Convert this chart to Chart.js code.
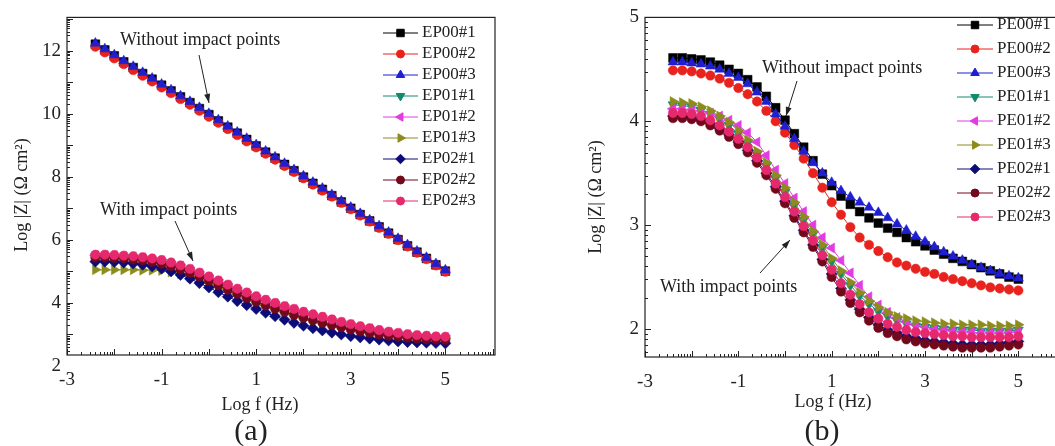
<!DOCTYPE html>
<html lang="en">
<head>
  <meta charset="UTF-8" />
  <title>Log |Z| vs Log f</title>
  <script src="https://cdn.jsdelivr.net/npm/chart.js"></script>
  <style>
    html, body {
      margin: 0;
      width: 1055px;
      height: 446px;
      overflow: hidden;
      background: #fff;
    }
    body { position: relative; }
    #chartA { position: absolute; left: 0; top: 0; }
    #chartB { position: absolute; left: 520px; top: 0; }
  </style>
</head>
<body>
  <canvas id="chartA" width="510" height="446"></canvas>
  <canvas id="chartB" width="560" height="446"></canvas>

  <script>
    // ---- data ----
    const logF = [-2.4, -2.2, -2.0, -1.8, -1.6, -1.4, -1.2, -1.0, -0.8, -0.6, -0.4, -0.2, 0.0, 0.2, 0.4, 0.6, 0.8, 1.0, 1.2,
                  1.4, 1.6, 1.8, 2.0, 2.2, 2.4, 2.6, 2.8, 3.0, 3.2, 3.4, 3.6, 3.8, 4.0, 4.2, 4.4, 4.6, 4.8, 5.0];
    const xTickVals = [-3, -1, 1, 3, 5];
    const yTickValsA = [2, 4, 6, 8, 10, 12];
    const yTickValsB = [2, 3, 4, 5];

    // panel (a)
    const namesA = ['EP00#1', 'EP00#2', 'EP00#3', 'EP01#1', 'EP01#2', 'EP01#3', 'EP02#1', 'EP02#2', 'EP02#3'];
    const ep00_1 = [12.20, 12.02, 11.83, 11.64, 11.46, 11.27, 11.09, 10.90, 10.72, 10.53, 10.35, 10.16, 9.97, 9.77, 9.57, 9.38, 9.18, 8.98, 8.78,
                    8.59, 8.39, 8.19, 7.99, 7.79, 7.60, 7.40, 7.20, 7.00, 6.80, 6.60, 6.41, 6.21, 6.01, 5.81, 5.61, 5.41, 5.21, 5.01];
    const ep00_2 = [12.12, 11.94, 11.75, 11.57, 11.38, 11.20, 11.02, 10.83, 10.65, 10.46, 10.28, 10.09, 9.90, 9.71, 9.51, 9.32, 9.12, 8.93, 8.73,
                    8.54, 8.34, 8.15, 7.95, 7.75, 7.56, 7.37, 7.17, 6.97, 6.77, 6.58, 6.38, 6.19, 5.99, 5.79, 5.59, 5.39, 5.19, 4.99];
    const ep00_3 = [12.23, 12.05, 11.86, 11.67, 11.49, 11.30, 11.12, 10.93, 10.75, 10.56, 10.38, 10.19, 10.00, 9.80, 9.60, 9.41, 9.21, 9.01, 8.81,
                    8.62, 8.42, 8.22, 8.02, 7.82, 7.63, 7.43, 7.23, 7.03, 6.83, 6.63, 6.44, 6.24, 6.04, 5.84, 5.64, 5.44, 5.24, 5.04];
    const ep01_1 = [5.47, 5.47, 5.46, 5.44, 5.42, 5.39, 5.35, 5.30, 5.22, 5.13, 5.02, 4.90, 4.78, 4.65, 4.52, 4.39, 4.27, 4.15, 4.04,
                    3.94, 3.84, 3.75, 3.66, 3.58, 3.50, 3.42, 3.34, 3.27, 3.20, 3.14, 3.08, 3.03, 2.99, 2.95, 2.92, 2.90, 2.88, 2.87];
    const ep01_2 = [5.51, 5.51, 5.50, 5.48, 5.46, 5.43, 5.39, 5.34, 5.26, 5.17, 5.06, 4.94, 4.82, 4.69, 4.56, 4.43, 4.31, 4.19, 4.08,
                    3.98, 3.88, 3.79, 3.70, 3.62, 3.54, 3.46, 3.38, 3.31, 3.24, 3.18, 3.12, 3.07, 3.03, 2.99, 2.96, 2.94, 2.92, 2.91];
    const ep01_3 = [5.05, 5.05, 5.05, 5.05, 5.05, 5.04, 5.04, 5.03, 4.98, 4.92, 4.83, 4.72, 4.60, 4.47, 4.34, 4.21, 4.09, 3.97, 3.86,
                    3.76, 3.66, 3.57, 3.48, 3.40, 3.33, 3.26, 3.20, 3.15, 3.10, 3.06, 3.02, 2.99, 2.96, 2.94, 2.92, 2.90, 2.89, 2.88];
    const ep02_1 = [5.31, 5.31, 5.30, 5.28, 5.25, 5.21, 5.16, 5.09, 5.00, 4.89, 4.77, 4.63, 4.49, 4.34, 4.20, 4.06, 3.93, 3.81, 3.69,
                    3.58, 3.47, 3.37, 3.28, 3.20, 3.13, 3.06, 3.00, 2.95, 2.91, 2.87, 2.84, 2.81, 2.78, 2.76, 2.75, 2.74, 2.73, 2.72];
    const ep02_2 = [5.44, 5.44, 5.43, 5.41, 5.38, 5.35, 5.30, 5.24, 5.16, 5.06, 4.95, 4.83, 4.70, 4.56, 4.42, 4.29, 4.16, 4.04, 3.92,
                    3.82, 3.72, 3.62, 3.53, 3.45, 3.37, 3.30, 3.23, 3.16, 3.10, 3.05, 3.00, 2.96, 2.93, 2.90, 2.87, 2.85, 2.84, 2.83];
    const ep02_3 = [5.53, 5.53, 5.52, 5.50, 5.48, 5.45, 5.41, 5.36, 5.28, 5.19, 5.08, 4.96, 4.84, 4.71, 4.58, 4.45, 4.33, 4.21, 4.10,
                    4.00, 3.90, 3.81, 3.72, 3.64, 3.56, 3.48, 3.40, 3.33, 3.26, 3.20, 3.14, 3.09, 3.05, 3.01, 2.98, 2.96, 2.94, 2.93];

    // panel (b)
    const namesB = ['PE00#1', 'PE00#2', 'PE00#3', 'PE01#1', 'PE01#2', 'PE01#3', 'PE02#1', 'PE02#2', 'PE02#3'];
    const pe00_1 = [4.61, 4.61, 4.60, 4.59, 4.57, 4.54, 4.50, 4.46, 4.40, 4.33, 4.24, 4.13, 4.01, 3.88, 3.75, 3.62, 3.49, 3.38, 3.28,
                    3.20, 3.13, 3.07, 3.02, 2.97, 2.93, 2.88, 2.84, 2.80, 2.76, 2.72, 2.68, 2.65, 2.62, 2.59, 2.56, 2.53, 2.50, 2.48];
    const pe00_2 = [4.49, 4.49, 4.48, 4.46, 4.44, 4.41, 4.37, 4.32, 4.26, 4.19, 4.10, 4.00, 3.89, 3.77, 3.64, 3.50, 3.36, 3.22, 3.10,
                    2.98, 2.88, 2.81, 2.75, 2.69, 2.64, 2.61, 2.58, 2.55, 2.53, 2.50, 2.48, 2.46, 2.44, 2.42, 2.40, 2.39, 2.38, 2.37];
    const pe00_3 = [4.57, 4.57, 4.56, 4.55, 4.53, 4.50, 4.46, 4.42, 4.36, 4.28, 4.19, 4.07, 3.95, 3.83, 3.71, 3.60, 3.50, 3.41, 3.33,
                    3.27, 3.22, 3.17, 3.12, 3.07, 3.01, 2.95, 2.89, 2.84, 2.79, 2.74, 2.70, 2.66, 2.62, 2.59, 2.56, 2.53, 2.51, 2.49];
    const pe01_1 = [4.16, 4.15, 4.14, 4.11, 4.07, 4.02, 3.96, 3.88, 3.79, 3.68, 3.57, 3.45, 3.32, 3.19, 3.05, 2.91, 2.78, 2.65, 2.53,
                    2.42, 2.32, 2.24, 2.17, 2.12, 2.08, 2.05, 2.03, 2.02, 2.01, 2.00, 1.99, 1.99, 1.99, 1.98, 1.98, 1.98, 1.98, 1.99];
    const pe01_2 = [4.12, 4.12, 4.11, 4.10, 4.08, 4.05, 4.01, 3.96, 3.89, 3.80, 3.67, 3.53, 3.40, 3.26, 3.13, 3.00, 2.88, 2.78, 2.66,
                    2.54, 2.42, 2.31, 2.23, 2.16, 2.11, 2.07, 2.04, 2.02, 2.00, 1.99, 1.98, 1.97, 1.97, 1.96, 1.96, 1.96, 1.96, 1.97];
    const pe01_3 = [4.19, 4.18, 4.17, 4.14, 4.10, 4.05, 3.99, 3.91, 3.82, 3.71, 3.60, 3.48, 3.36, 3.22, 3.08, 2.94, 2.81, 2.68, 2.56,
                    2.45, 2.35, 2.27, 2.21, 2.16, 2.12, 2.10, 2.08, 2.07, 2.06, 2.05, 2.05, 2.04, 2.04, 2.04, 2.03, 2.03, 2.03, 2.04];
    const pe02_1 = [4.05, 4.05, 4.04, 4.02, 3.98, 3.93, 3.87, 3.80, 3.72, 3.62, 3.50, 3.37, 3.23, 3.09, 2.95, 2.81, 2.67, 2.53, 2.39,
                    2.28, 2.19, 2.11, 2.04, 1.99, 1.96, 1.93, 1.91, 1.89, 1.88, 1.87, 1.86, 1.85, 1.85, 1.85, 1.85, 1.86, 1.87, 1.88];
    const pe02_2 = [4.03, 4.03, 4.02, 4.00, 3.96, 3.91, 3.85, 3.78, 3.70, 3.60, 3.48, 3.35, 3.21, 3.07, 2.93, 2.79, 2.65, 2.50, 2.36,
                    2.25, 2.16, 2.08, 2.01, 1.96, 1.93, 1.90, 1.88, 1.86, 1.85, 1.84, 1.83, 1.82, 1.82, 1.82, 1.82, 1.83, 1.84, 1.85];
    const pe02_3 = [4.08, 4.08, 4.07, 4.05, 4.01, 3.96, 3.90, 3.83, 3.75, 3.65, 3.53, 3.40, 3.27, 3.13, 2.99, 2.85, 2.71, 2.57, 2.44,
                    2.33, 2.24, 2.16, 2.10, 2.05, 2.02, 1.99, 1.97, 1.96, 1.95, 1.94, 1.93, 1.93, 1.92, 1.92, 1.92, 1.92, 1.92, 1.93];

    // ---- styling ----
    const FONT = "'Liberation Serif', 'Times New Roman', serif";
    const INK = '#222';
    const colors    = ['#000000', '#e8231e', '#1f1fd0', '#128a70', '#e23be2', '#8c8c1c', '#0c0c78', '#72081c', '#e6286c'];
    const styles    = ['rect', 'circle', 'triangle', 'triangle', 'triangle', 'triangle', 'rectRot', 'circle', 'circle'];
    const rotations = [0, 0, 0, 180, -90, 90, 0, 0, 0];
    const radii     = [6.2, 4.7, 5.8, 5.8, 5.8, 5.8, 5.6, 4.7, 4.7];

    function drawArrow(ctx, x1, y1, x2, y2) {
      const ang = Math.atan2(y2 - y1, x2 - x1);
      ctx.beginPath();
      ctx.moveTo(x1, y1);
      ctx.lineTo(x2, y2);
      ctx.stroke();
      ctx.beginPath();
      ctx.moveTo(x2, y2);
      ctx.lineTo(x2 - 9 * Math.cos(ang) + 3 * Math.sin(ang), y2 - 9 * Math.sin(ang) - 3 * Math.cos(ang));
      ctx.lineTo(x2 - 9 * Math.cos(ang) - 3 * Math.sin(ang), y2 - 9 * Math.sin(ang) + 3 * Math.cos(ang));
      ctx.closePath();
      ctx.fill();
    }

    // frame, inward log-style ticks, legend, notes and axis titles
    function decorPlugin(d) {
      return {
        id: 'decor',
        afterDraw(chart) {
          const ctx = chart.ctx;
          const a = chart.chartArea;
          const x = chart.scales.x, y = chart.scales.y;
          ctx.save();
          ctx.strokeStyle = INK;
          ctx.lineWidth = 1.2;
          ctx.strokeRect(a.left, a.top, a.right - a.left, a.bottom - a.top);

          ctx.lineWidth = 1;
          ctx.beginPath();
          for (let n = Math.floor(x.min); n <= x.max; n++) {
            for (let k = 1; k <= 9; k++) {
              const v = n + Math.log10(k);
              if (v < x.min || v > x.max) continue;
              const px = Math.round(x.getPixelForValue(v)) + 0.5;
              ctx.moveTo(px, a.bottom);
              ctx.lineTo(px, a.bottom - (k === 1 ? 6 : 3));
            }
          }
          for (let n = Math.floor(y.min); n <= y.max; n++) {
            for (let k = 1; k <= 9; k++) {
              const v = n + Math.log10(k);
              if (v < y.min || v > y.max) continue;
              const py = Math.round(y.getPixelForValue(v)) + 0.5;
              ctx.moveTo(a.left, py);
              ctx.lineTo(a.left + (k === 1 ? 6 : 3), py);
            }
          }
          ctx.stroke();

          // legend
          const lg = d.legend;
          ctx.font = '17px ' + FONT;
          ctx.textBaseline = 'middle';
          ctx.textAlign = 'left';
          d.names.forEach((name, i) => {
            const yy = lg.y + i * lg.dy;
            ctx.strokeStyle = colors[i];
            ctx.fillStyle = colors[i];
            ctx.lineWidth = 1;
            ctx.beginPath();
            ctx.moveTo(lg.x, yy);
            ctx.lineTo(lg.x + lg.len, yy);
            ctx.stroke();
            Chart.helpers.drawPoint(ctx, {
              pointStyle: styles[i], rotation: rotations[i], radius: radii[i] * 0.85, borderWidth: 0.5
            }, lg.x + lg.len / 2, yy);
            ctx.fillStyle = INK;
            ctx.fillText(name, lg.x + lg.len + 4, yy);
          });

          // notes with arrows
          ctx.fillStyle = INK;
          ctx.strokeStyle = INK;
          ctx.lineWidth = 1;
          ctx.font = '18px ' + FONT;
          d.notes.forEach(nt => {
            ctx.textAlign = 'left';
            ctx.fillText(nt.text, nt.x, nt.y);
            drawArrow(ctx, nt.arrow[0], nt.arrow[1], nt.arrow[2], nt.arrow[3]);
          });

          // axis titles and panel label
          ctx.textAlign = 'center';
          ctx.font = '18px ' + FONT;
          ctx.fillText('Log f (Hz)', d.xTitle[0], d.xTitle[1]);
          ctx.save();
          ctx.translate(d.yTitle[0], d.yTitle[1]);
          ctx.rotate(-Math.PI / 2);
          ctx.fillText('Log |Z| (\u03A9 cm\u00B2)', 0, 0);
          ctx.restore();
          ctx.font = '30px ' + FONT;
          ctx.fillText(d.panel, d.panelPos[0], d.panelPos[1]);
          ctx.restore();
        }
      };
    }

    function makeChart(id, names, series, o) {
      const datasets = series.map((vals, i) => ({
        label: names[i],
        data: logF.map((f, j) => ({ x: f, y: vals[j] })),
        borderColor: colors[i],
        backgroundColor: colors[i],
        pointBackgroundColor: colors[i],
        pointBorderColor: colors[i],
        borderWidth: 1,
        pointStyle: styles[i],
        pointRotation: rotations[i],
        pointRadius: radii[i],
        pointBorderWidth: 0.5,
        order: series.length - i
      }));
      const tickFont = { family: FONT, size: 19 };
      return new Chart(document.getElementById(id), {
        type: 'line',
        data: { datasets },
        options: {
          responsive: false,
          animation: false,
          events: [],
          layout: { padding: { left: 0, top: 17, right: o.padRight, bottom: 0 } },
          plugins: { legend: { display: false }, tooltip: { enabled: false } },
          scales: {
            x: {
              type: 'linear', min: -3, max: o.xMax,
              afterFit: s => { s.height = o.xH; },
              afterBuildTicks: s => { s.ticks = xTickVals.map(v => ({ value: v })); },
              grid: { display: false, drawTicks: false },
              border: { display: false },
              ticks: { autoSkip: false, maxRotation: 0, padding: 14, font: tickFont, color: INK }
            },
            y: {
              type: 'linear', min: o.yMin, max: o.yMax,
              afterFit: s => { s.width = o.yW; },
              afterBuildTicks: s => { s.ticks = o.yTicks.map(v => ({ value: v })); },
              grid: { display: false, drawTicks: false },
              border: { display: false },
              ticks: { autoSkip: false, padding: 6, font: tickFont, color: INK }
            }
          }
        },
        plugins: [decorPlugin(o.decor)]
      });
    }

    makeChart('chartA', namesA, [ep00_1, ep00_2, ep00_3, ep01_1, ep01_2, ep01_3, ep02_1, ep02_2, ep02_3], {
      xMax: 6.05, yMin: 2.35, yMax: 13.05, yTicks: yTickValsA, yW: 67, xH: 91, padRight: 15,
      decor: {
        names: namesA,
        legend: { x: 383, y: 33, dy: 21, len: 35 },
        notes: [
          { text: 'Without impact points', x: 120, y: 40, arrow: [199, 55, 209, 103] },
          { text: 'With impact points', x: 100, y: 210, arrow: [175, 221, 193, 261] }
        ],
        xTitle: [260, 405], yTitle: [22, 195], panel: '(a)', panelPos: [251, 432]
      }
    });

    makeChart('chartB', namesB, [pe00_1, pe00_2, pe00_3, pe01_1, pe01_2, pe01_3, pe02_1, pe02_2, pe02_3], {
      xMax: 6, yMin: 1.73, yMax: 5, yTicks: yTickValsB, yW: 125, xH: 89, padRight: 15,
      decor: {
        names: namesB,
        legend: { x: 437, y: 25, dy: 24, len: 36 },
        notes: [
          { text: 'Without impact points', x: 242, y: 68, arrow: [277, 81, 266, 116] },
          { text: 'With impact points', x: 140, y: 287, arrow: [240, 273, 270, 240] }
        ],
        xTitle: [313, 402], yTitle: [76, 197], panel: '(b)', panelPos: [302, 432]
      }
    });
  </script>
</body>
</html>
